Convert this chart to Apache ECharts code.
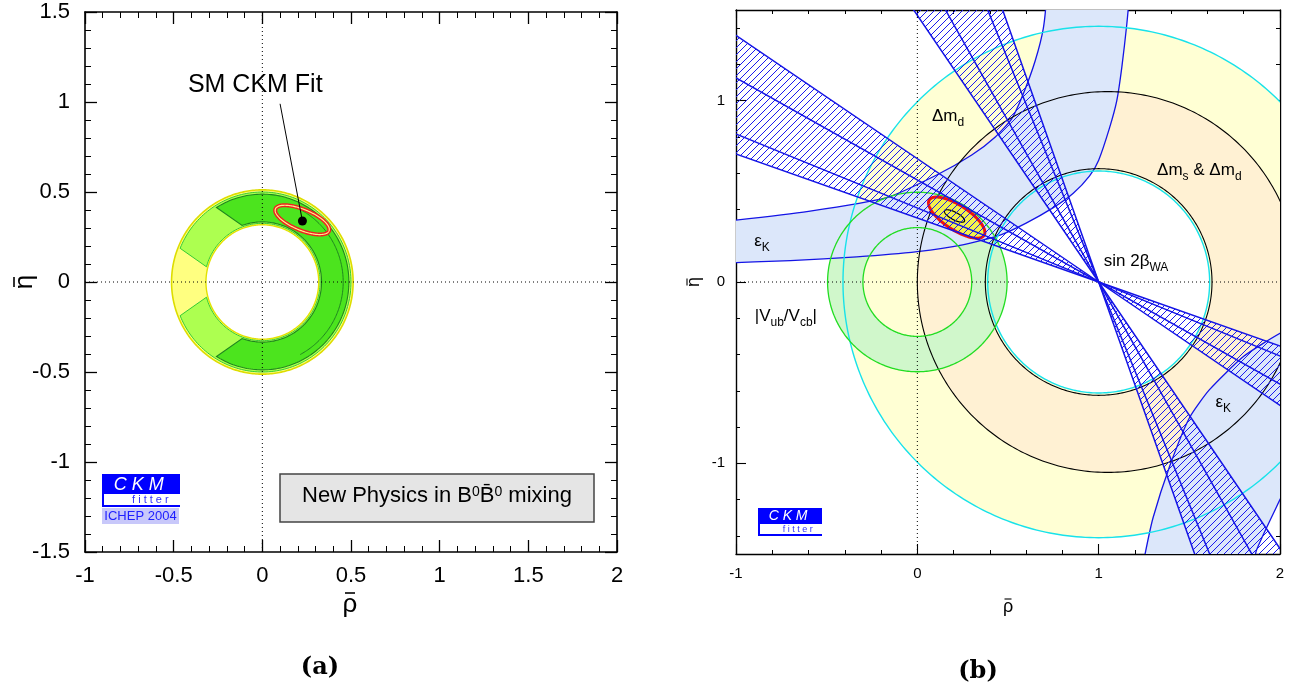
<!DOCTYPE html>
<html>
<head>
<meta charset="utf-8">
<title>Constraints in the (rho-bar, eta-bar) plane</title>
<script src="https://cdn.jsdelivr.net/npm/echarts@6.0.0/dist/echarts.min.js"></script>
<style>
html, body { margin: 0; padding: 0; background: #ffffff; }
#chart { width: 1299px; height: 685px; }
</style>
</head>
<body>
<div id="chart"></div>
<script>
// ---------------- tick labels ----------------
const xTickLabelsA = ['-1', '-0.5', '0', '0.5', '1', '1.5', '2'];
const yTickLabelsA = ['-1.5', '-1', '-0.5', '0', '0.5', '1', '1.5'];
const xTickLabelsB = ['-1', '0', '1', '2'];
const yMajorB = [-1, 0, 1];
const yMinorB = [-1.4, -1.2, -0.8, -0.6, -0.4, -0.2, 0.2, 0.4, 0.6, 0.8, 1.2, 1.4];

// ---------------- (a) fit with New Physics in B0-B0bar mixing ----------------
const ringCenterA = [0, 0];
const yellowBandA = [0.318, 0.512];                // [r inner, r outer]
const lightGreenBandA = [0.326, 0.500, 158, 165];  // [r inner, r outer, outer cut (deg), inner cut (deg)]
const darkGreenBandA = [0.334, 0.488, 122, 110];
const darkContourA = [0.456, -62, 62];             // [r, from (deg), to (deg)]
const smEllipseA = [0.225, 0.345, 0.163, 0.058, -22]; // [rho, eta, semi-major, semi-minor, tilt (deg)]
const smPointA = [0.226, 0.339];

// ---------------- (b) individual constraints ----------------
const dmdRing = [1, 0, 0.612, 1.41];          // cyan: [rho0, eta0, r inner, r outer]
const dmsInner = [1, 0, 0.625];               // black inner circle
const dmsOuter = [1.05, 0, 1.05];             // black outer circle
const vubRing = [0, 0, 0.30, 0.495];          // green
const epsKUpperLow = [[-1.4, 0.094], [-1.1, 0.104], [-0.7, 0.118], [-0.334, 0.139], [0, 0.168], [0.25, 0.205],
  [0.456, 0.259], [0.6, 0.325], [0.75, 0.41], [0.86, 0.489], [0.95, 0.585], [1.0, 0.672], [1.06, 0.85],
  [1.1, 1.0], [1.128, 1.186], [1.155, 1.42], [1.17, 1.6], [1.185, 1.9]];
const epsKUpperHigh = [[-1.4, 0.30], [-1.1, 0.33], [-0.6, 0.39], [-0.169, 0.465], [0.107, 0.59], [0.3, 0.7],
  [0.43, 0.8], [0.52, 0.9], [0.585, 1.04], [0.65, 1.22], [0.695, 1.4], [0.715, 1.6], [0.73, 1.9]];
const epsKLowerInner = [[2.3, -0.2], [2.05, -0.27], [2.0, -0.283], [1.8, -0.41], [1.61, -0.595], [1.5, -0.75],
  [1.39, -1.02], [1.3, -1.3], [1.257, -1.495], [1.24, -1.6], [1.21, -1.9]];
const epsKLowerOuter = [[2.3, -0.85], [2.05, -1.1], [2.0, -1.2], [1.87, -1.48], [1.85, -1.6], [1.81, -1.9]];
const sin2bApex = [1, 0];
const sin2bTan = [0.353, 0.408, 0.563, 0.680];   // tan(beta) of the band edges
const fitEllipseB = [0.217, 0.355, 0.18, 0.068, -33];
const fitCoreB = [0.205, 0.364, 0.062, 0.021, -28];

const deg = Math.PI / 180;
const FONT = '"Liberation Sans", Helvetica, Arial, sans-serif';

// diagonal hatch used for the sin 2beta wedges
const hatch = (function () {
  const c = document.createElement('canvas');
  c.width = 7; c.height = 7;
  const g = c.getContext('2d');
  g.strokeStyle = '#1a1aee'; g.lineWidth = 1;
  g.beginPath();
  g.moveTo(0, 7); g.lineTo(7, 0);
  g.moveTo(-1, 1); g.lineTo(1, -1);
  g.moveTo(6, 8); g.lineTo(8, 6);
  g.stroke();
  return c;
})();

// ---------- geometry helpers (pixel points from data-space shapes) ----------
function circlePts(api, cx, cy, r, reverse) {
  const pts = [];
  for (let i = 0; i <= 360; i++) {
    const t = (reverse ? 360 - i : i) * deg;
    pts.push(api.coord([cx + r * Math.cos(t), cy + r * Math.sin(t)]));
  }
  return pts;
}
function annulusPts(api, outer, inner) {
  return circlePts(api, outer[0], outer[1], outer[2], false).concat(circlePts(api, inner[0], inner[1], inner[2], true));
}
function bandPts(api, c, rIn, rOut, aOut, aIn) {
  const pts = [];
  for (let i = 0; i <= 180; i++) {
    const t = (aOut - 2 * aOut * i / 180) * deg;
    pts.push(api.coord([c[0] + rOut * Math.cos(t), c[1] + rOut * Math.sin(t)]));
  }
  for (let i = 0; i <= 180; i++) {
    const t = (-aIn + 2 * aIn * i / 180) * deg;
    pts.push(api.coord([c[0] + rIn * Math.cos(t), c[1] + rIn * Math.sin(t)]));
  }
  return pts;
}
function arcPts(api, c, r, a0, a1) {
  const pts = [];
  for (let i = 0; i <= 120; i++) {
    const t = (a0 + (a1 - a0) * i / 120) * deg;
    pts.push(api.coord([c[0] + r * Math.cos(t), c[1] + r * Math.sin(t)]));
  }
  return pts;
}
function ellipsePts(api, e) {
  const [cx, cy, a, b, tilt] = e;
  const ct = Math.cos(tilt * deg), st = Math.sin(tilt * deg);
  const pts = [];
  for (let i = 0; i < 180; i++) {
    const t = i * 2 * deg;
    const u = a * Math.cos(t), v = b * Math.sin(t);
    pts.push(api.coord([cx + u * ct - v * st, cy + u * st + v * ct]));
  }
  return pts;
}
function mapPts(api, list) { return list.map(p => api.coord(p)); }

function layer(name, xi, yi, build) {
  return {
    type: 'custom', name: name, coordinateSystem: 'cartesian2d',
    xAxisIndex: xi, yAxisIndex: yi, clip: true, silent: true,
    data: [[0, 0]],
    renderItem: (params, api) => ({ type: 'group', children: build(api) })
  };
}
function poly(points, style, smooth) { return { type: 'polygon', shape: { points: points, smooth: smooth || 0 }, style: style }; }
function pline(points, style) { return { type: 'polyline', shape: { points: points }, style: Object.assign({ fill: 'none' }, style) }; }
function seg(api, p, q, style) {
  const a = api.coord(p), b = api.coord(q);
  return { type: 'line', shape: { x1: a[0], y1: a[1], x2: b[0], y2: b[1] }, style: style };
}
function label(api, p, text, size) {
  const c = api.coord(p);
  return {
    type: 'text', x: c[0], y: c[1],
    style: {
      text: text, align: 'center', verticalAlign: 'middle', fill: '#000',
      fontFamily: FONT, fontSize: size,
      rich: {
        m: { fontSize: size, fontFamily: FONT, fill: '#000', lineHeight: size + 3, verticalAlign: 'top' },
        s: { fontSize: Math.round(size * 0.72), fontFamily: FONT, fill: '#000', lineHeight: Math.round(size * 0.8), padding: [Math.round(size * 0.5), 0, 0, 0], verticalAlign: 'top' }
      }
    }
  };
}
const dotted = { stroke: '#000', lineWidth: 1, lineDash: [1, 3] };

// ---------------- series of panel (a) ----------------
const seriesA = [
  layer('ring', 0, 0, api => [
    poly(circlePts(api, ringCenterA[0], ringCenterA[1], yellowBandA[1]), { fill: '#ffff80', stroke: '#dddd00', lineWidth: 1.6 }),
    poly(circlePts(api, ringCenterA[0], ringCenterA[1], yellowBandA[0]), { fill: '#ffffff', stroke: '#e2e200', lineWidth: 1.4 }),
    poly(bandPts(api, ringCenterA, lightGreenBandA[0], lightGreenBandA[1], lightGreenBandA[2], lightGreenBandA[3]),
      { fill: '#adff50', stroke: '#33cc33', lineWidth: 1 }),
    poly(bandPts(api, ringCenterA, darkGreenBandA[0], darkGreenBandA[1], darkGreenBandA[2], darkGreenBandA[3]),
      { fill: '#4ce41e', stroke: '#1f861f', lineWidth: 1.1 }),
    pline(arcPts(api, ringCenterA, darkContourA[0], darkContourA[1], darkContourA[2]), { stroke: '#1f861f', lineWidth: 1 })
  ]),
  layer('zero lines', 0, 0, api => [
    seg(api, [-1, 0], [2, 0], dotted),
    seg(api, [0, -1.5], [0, 1.5], dotted)
  ]),
  layer('SM fit', 0, 0, api => {
    const dot = api.coord(smPointA);
    return [
      poly(ellipsePts(api, smEllipseA), { fill: 'none', stroke: '#f02020', lineWidth: 4 }),
      poly(ellipsePts(api, smEllipseA), { fill: 'none', stroke: '#ffee88', lineWidth: 1.2 }),
      seg(api, [0.10, 0.99], smPointA, { stroke: '#000', lineWidth: 1 }),
      { type: 'circle', shape: { cx: dot[0], cy: dot[1], r: 4.5 }, style: { fill: '#000' } },
      label(api, [-0.04, 1.093], 'SM CKM Fit', 25)
    ];
  })
];

// ---------------- series of panel (b) ----------------
const blue = '#1414e6';
const seriesB = [
  layer('dmd', 2, 2, api => [
    poly(annulusPts(api, [dmdRing[0], dmdRing[1], dmdRing[3]], [dmdRing[0], dmdRing[1], dmdRing[2]]), { fill: '#ffffd4' })
  ]),
  layer('dms', 2, 2, api => [
    poly(annulusPts(api, dmsOuter, dmsInner), { fill: '#fff1d3' })
  ]),
  layer('vub', 2, 2, api => [
    poly(annulusPts(api, [vubRing[0], vubRing[1], vubRing[3]], [vubRing[0], vubRing[1], vubRing[2]]), { fill: '#d0f7cb' })
  ]),
  layer('epsK', 2, 2, api => [
    poly(mapPts(api, epsKUpperLow.concat(epsKUpperHigh.slice().reverse())), { fill: '#dce7fa', stroke: blue, lineWidth: 1.3 }, 0.2),
    poly(mapPts(api, epsKLowerInner.concat(epsKLowerOuter.slice().reverse())), { fill: '#dce7fa', stroke: blue, lineWidth: 1.3 }, 0.2)
  ]),
  layer('circles', 2, 2, api => [
    poly(circlePts(api, dmdRing[0], dmdRing[1], dmdRing[3]), { fill: 'none', stroke: '#18e2ea', lineWidth: 1.4 }),
    poly(circlePts(api, dmdRing[0], dmdRing[1], dmdRing[2]), { fill: 'none', stroke: '#18e2ea', lineWidth: 1.4 }),
    poly(circlePts(api, dmsOuter[0], dmsOuter[1], dmsOuter[2]), { fill: 'none', stroke: '#000', lineWidth: 1.1 }),
    poly(circlePts(api, dmsInner[0], dmsInner[1], dmsInner[2]), { fill: 'none', stroke: '#000', lineWidth: 1.1 }),
    poly(circlePts(api, vubRing[0], vubRing[1], vubRing[3]), { fill: 'none', stroke: '#22dd22', lineWidth: 1.3 }),
    poly(circlePts(api, vubRing[0], vubRing[1], vubRing[2]), { fill: 'none', stroke: '#22dd22', lineWidth: 1.3 })
  ]),
  layer('zero lines', 2, 2, api => [
    seg(api, [-1, 0], [2, 0], dotted),
    seg(api, [0, -1.5], [0, 1.5], dotted)
  ]),
  layer('global fit', 2, 2, api => [
    poly(ellipsePts(api, fitEllipseB), { fill: '#f2f24c', stroke: '#ee1111', lineWidth: 3 }),
    poly(ellipsePts(api, fitCoreB), { fill: 'none', stroke: '#000', lineWidth: 1.2 })
  ]),
  layer('sin2beta', 2, 2, api => {
    const sLo = sin2bTan[0], sHi = sin2bTan[sin2bTan.length - 1];
    const hatchStyle = { fill: { image: hatch, repeat: 'repeat' }, stroke: blue, lineWidth: 1.5 };
    const out = [
      // shallow solution: eta = t (1 - rho), both sides of the apex
      poly(mapPts(api, [sin2bApex, [-1.2, sLo * 2.2], [-1.2, sHi * 2.2]]), hatchStyle),
      poly(mapPts(api, [sin2bApex, [2.2, -sLo * 1.2], [2.2, -sHi * 1.2]]), hatchStyle),
      // steep solution: rho = 1 - t eta
      poly(mapPts(api, [sin2bApex, [1 - sLo * 1.6, 1.6], [1 - sHi * 1.6, 1.6]]), hatchStyle),
      poly(mapPts(api, [sin2bApex, [1 + sLo * 1.6, -1.6], [1 + sHi * 1.6, -1.6]]), hatchStyle)
    ];
    sin2bTan.slice(1, -1).forEach(t => {
      out.push(seg(api, [-1.2, t * 2.2], [2.2, -t * 1.2], { stroke: blue, lineWidth: 1.5 }));
      out.push(seg(api, [1 - t * 1.6, 1.6], [1 + t * 1.6, -1.6], { stroke: blue, lineWidth: 1.5 }));
    });
    return out;
  }),
  layer('labels', 2, 2, api => [
    label(api, [0.169, 0.904], '{m|Δm}{s|d}', 17),
    label(api, [1.555, 0.606], '{m|Δm}{s|s}{m| & Δm}{s|d}', 17),
    label(api, [1.206, 0.105], '{m|sin 2β}{s|WA}', 17),
    label(api, [-0.857, 0.215], '{m|ε}{s|K}', 17),
    label(api, [-0.725, -0.198], '{m||V}{s|ub}{m|/V}{s|cb}{m||}', 17),
    label(api, [1.687, -0.672], '{m|ε}{s|K}', 17)
  ])
];

// ---------------- axes ----------------
const black = '#000';
function xAxisA(pos, labels) {
  return {
    type: 'value', gridIndex: 0, position: pos, min: -1, max: 2, interval: 0.5,
    axisLine: { show: true, onZero: false, lineStyle: { color: black, width: 1.6 } },
    axisTick: { show: true, inside: true, length: 12, lineStyle: { color: black, width: 1.3 } },
    minorTick: { show: true, splitNumber: 5, length: 6, lineStyle: { color: black, width: 1 } },
    axisLabel: {
      show: labels, margin: 13, fontFamily: FONT, fontSize: 22, color: black,
      formatter: v => xTickLabelsA[Math.round((v + 1) / 0.5)]
    },
    splitLine: { show: false }, minorSplitLine: { show: false }
  };
}
function yAxisA(pos, labels) {
  return {
    type: 'value', gridIndex: 0, position: pos, min: -1.5, max: 1.5, interval: 0.5,
    axisLine: { show: true, onZero: false, lineStyle: { color: black, width: 1.6 } },
    axisTick: { show: true, inside: true, length: 12, lineStyle: { color: black, width: 1.3 } },
    minorTick: { show: true, splitNumber: 5, length: 6, lineStyle: { color: black, width: 1 } },
    axisLabel: {
      show: labels, margin: 15, fontFamily: FONT, fontSize: 22, color: black,
      formatter: v => yTickLabelsA[Math.round((v + 1.5) / 0.5)]
    },
    splitLine: { show: false }, minorSplitLine: { show: false }
  };
}
function xAxisB(pos, labels) {
  return {
    type: 'value', gridIndex: 1, position: pos, min: -1, max: 2, interval: 1,
    axisLine: { show: true, onZero: false, lineStyle: { color: black, width: 1.4 } },
    axisTick: { show: true, inside: true, length: labels ? 10 : 8, lineStyle: { color: black, width: 1.1 } },
    minorTick: { show: true, splitNumber: 5, length: 4, lineStyle: { color: black, width: 1 } },
    axisLabel: {
      show: labels, margin: 12, fontFamily: FONT, fontSize: 15, color: black,
      formatter: v => xTickLabelsB[Math.round(v + 1)]
    },
    splitLine: { show: false }, minorSplitLine: { show: false }
  };
}
function yAxisB(pos, major, labels) {
  return {
    type: 'value', gridIndex: 1, position: pos, min: -1.5, max: 1.5,
    axisLine: { show: major, onZero: false, lineStyle: { color: black, width: 1.4 } },
    axisTick: {
      show: true, inside: true, length: major ? 10 : 4,
      customValues: major ? yMajorB : yMinorB, lineStyle: { color: black, width: major ? 1.1 : 1 }
    },
    axisLabel: {
      show: labels, customValues: yMajorB, margin: 11, fontFamily: FONT, fontSize: 15, color: black,
      formatter: v => String(Math.round(v))
    },
    splitLine: { show: false }, minorTick: { show: false }
  };
}

// ---------------- annotations drawn in page pixels ----------------
function ckmLogo(x, y, w, hTop, hMid, big, small) {
  return [
    { type: 'rect', shape: { x: x, y: y, width: w, height: hTop }, style: { fill: '#0000ff' } },
    { type: 'text', x: x + w * 0.47, y: y + hTop / 2 + 0.5, style: { text: 'C K M', fill: '#ffffff', fontFamily: FONT, fontStyle: 'italic', fontSize: big, align: 'center', verticalAlign: 'middle' } },
    { type: 'polyline', shape: { points: [[x + 1, y + hTop], [x + 1, y + hTop + hMid - 1], [x + w, y + hTop + hMid - 1]] }, style: { fill: 'none', stroke: '#0000ff', lineWidth: 2 } },
    { type: 'text', x: x + w * 0.62, y: y + hTop + hMid / 2 - 0.5, style: { text: 'f i t t e r', fill: '#3030ff', fontFamily: FONT, fontSize: small, align: 'center', verticalAlign: 'middle' } }
  ];
}
// a Greek letter with an overbar, optionally rotated to read bottom-to-top
function barred(ch, x, y, size, barLen, barGap, rotated) {
  const kids = [
    { type: 'text', x: 0, y: 0, style: { text: ch, fill: '#000', fontFamily: FONT, fontSize: size, align: 'center', verticalAlign: 'middle' } },
    { type: 'line', shape: { x1: -barLen / 2, y1: -barGap, x2: barLen / 2, y2: -barGap }, style: { stroke: '#000', lineWidth: size > 20 ? 1.6 : 1.1 } }
  ];
  return { type: 'group', x: x, y: y, rotation: rotated ? Math.PI / 2 : 0, children: kids };
}
const graphics = [].concat(
  ckmLogo(102, 474, 78, 20, 13, 18, 11),
  [
    { type: 'rect', shape: { x: 102, y: 508, width: 77, height: 16 }, style: { fill: '#c8c8fa' } },
    { type: 'text', x: 140.5, y: 516.5, style: { text: 'ICHEP 2004', fill: '#2020ff', fontFamily: FONT, fontSize: 13, align: 'center', verticalAlign: 'middle' } },
    { type: 'rect', shape: { x: 280, y: 474, width: 314, height: 48 }, style: { fill: '#e5e5e5', stroke: '#444', lineWidth: 1.5 } },
    {
      type: 'text', x: 437, y: 498,
      style: {
        text: '{t|New Physics in B}{p|0}{t|B\u0304}{p|0}{t| mixing}', align: 'center', verticalAlign: 'middle',
        rich: {
          t: { fontFamily: FONT, fontSize: 22, fill: '#000', lineHeight: 26, verticalAlign: 'top' },
          p: { fontFamily: FONT, fontSize: 14, fill: '#000', lineHeight: 14, verticalAlign: 'top' }
        }
      }
    },
    barred('ρ', 350, 605, 26, 10, 12, false),
    barred('η', 25, 282, 26, 10, 11, true),
    barred('ρ', 1008, 607, 18, 7, 8, false),
    barred('η', 694, 282, 18, 7, 7, true),
    { type: 'text', x: 320, y: 668, style: { text: '(a)', fill: '#000', fontFamily: '"DejaVu Serif", serif', fontWeight: 'bold', fontSize: 24, align: 'center', verticalAlign: 'middle' } },
    { type: 'text', x: 978, y: 672, style: { text: '(b)', fill: '#000', fontFamily: '"DejaVu Serif", serif', fontWeight: 'bold', fontSize: 24, align: 'center', verticalAlign: 'middle' } }
  ],
  ckmLogo(758, 508, 64, 16, 12, 14, 9)
);

const option = {
  animation: false,
  backgroundColor: '#ffffff',
  grid: [
    { left: 85, top: 12, width: 532, height: 540, outerBoundsMode: 'none', containLabel: false },
    { left: 736, top: 10, width: 544, height: 544, outerBoundsMode: 'none', containLabel: false }
  ],
  xAxis: [xAxisA('bottom', true), xAxisA('top', false), xAxisB('bottom', true), xAxisB('top', false)],
  yAxis: [
    yAxisA('left', true), yAxisA('right', false),
    yAxisB('left', true, true), yAxisB('left', false, false),
    yAxisB('right', true, false), yAxisB('right', false, false)
  ],
  graphic: { elements: graphics },
  series: seriesA.concat(seriesB)
};

const chart = echarts.init(document.getElementById('chart'), null, { renderer: 'canvas' });
chart.setOption(option);
</script>
</body>
</html>
